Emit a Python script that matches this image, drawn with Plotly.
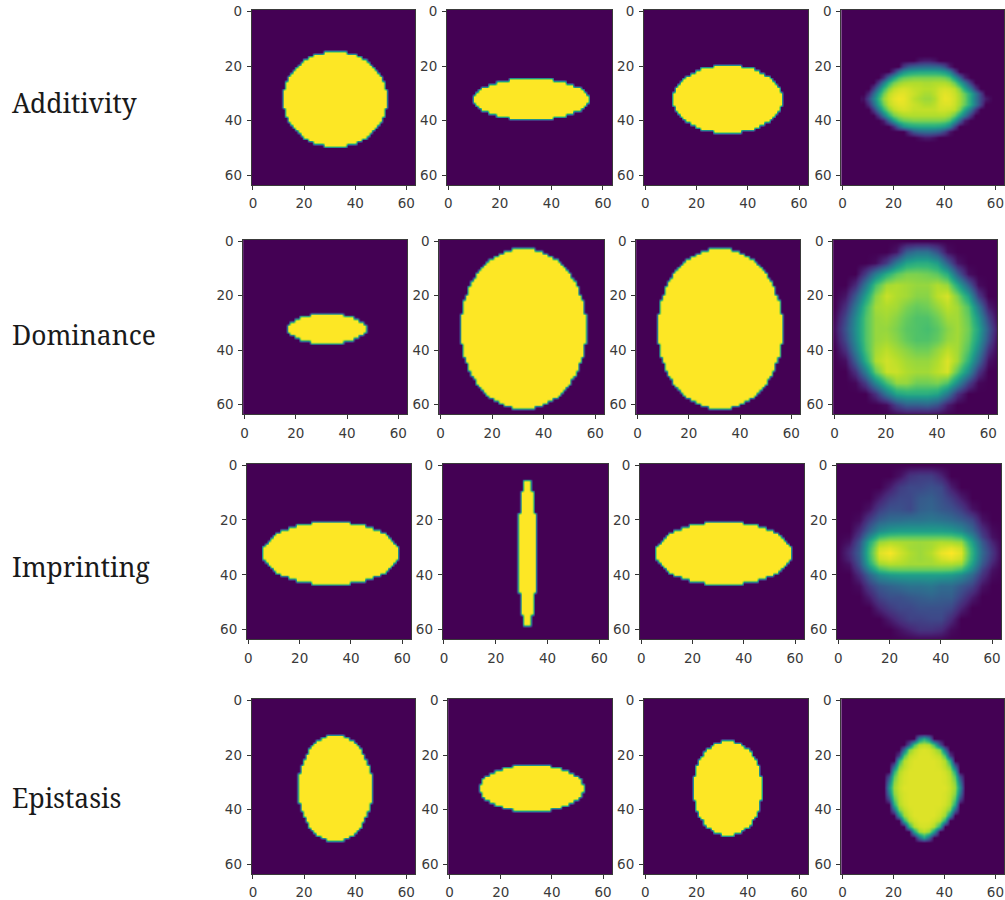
import plotly.graph_objects as go

row_labels = ["Additivity", "Dominance", "Imprinting", "Epistasis"]
tick_vals = [0, 20, 40, 60]

# Half-width (in cells) of each solid shape, listed per row going outward from the centre row 32
add_1 = [20,20,20,20,19,19,19,18,18,17,16,15,14,13,12,10,8,4]
add_2 = [22,22,21,20,19,16,13,8]
add_3 = [21,21,21,20,20,19,18,17,16,14,12,10,5]
dom_1 = [15,15,14,12,10,6]
dom_2 = [24,24,24,24,24,24,23,23,23,23,23,22,22,21,21,21,20,20,19,18,18,17,16,15,14,13,11,9,7,4]
dom_3 = [24,24,24,24,24,24,23,23,23,23,23,22,22,21,21,21,20,20,19,18,18,17,16,15,14,13,11,9,7,4]
imp_1 = [26,26,26,25,24,23,22,21,19,16,13,7]
imp_2 = [3,3,3,3,3,3,3,3,3,3,3,3,3,3,3,2,2,2,2,2,2,2,2,1,1,1,1]
imp_3 = [26,26,26,25,24,23,22,21,19,16,13,7]
epi_1 = [14,14,14,14,14,14,13,13,13,12,12,11,11,10,10,9,8,7,5,3]
epi_2 = [20,20,19,19,18,16,14,11,7]
epi_3 = [13,13,13,13,13,12,12,12,12,11,11,10,9,9,8,6,5,2]

# Readings (percent of the colour scale) of the blended panels, with the cell positions they were read at
add_4_x = [8,10,12,14,16,18,20,22,24,26,28,30,32,34,36,38,40,42,44,46,48,50,52,54,56,58]
add_4_y = [16,18,20,22,24,26,28,30,32,34,36,38,40,42,44,46,48]
add_4 = [
 [0]*26,
 [0,0,0,0,0,0,0,0,0,0,0,6,8,8,5,0,0,0,0,0,0,0,0,0,0,0],
 [0,0,0,0,0,0,0,0,18,28,32,34,35,35,34,32,24,8,0,0,0,0,0,0,0,0],
 [0,0,0,0,0,0,14,36,50,56,58,60,60,60,60,58,54,44,20,0,0,0,0,0,0,0],
 [0,0,0,0,12,36,56,70,76,78,80,80,80,80,80,80,78,72,54,34,10,0,0,0,0,0],
 [0,0,0,18,42,64,78,84,87,88,88,88,87,87,88,88,88,85,76,58,40,16,0,0,0,0],
 [0,0,18,42,66,82,90,93,94,93,91,90,89,89,90,93,94,93,90,80,60,40,16,0,0,0],
 [0,12,34,58,78,90,94,96,96,94,92,89,87,87,90,94,96,95,92,86,76,60,40,20,0,0],
 [4,22,44,66,84,92,96,98,97,94,90,87,85,85,88,94,97,96,93,87,78,60,40,22,8,2],
 [0,12,34,58,78,90,94,96,96,94,92,90,88,88,90,94,95,95,92,86,76,60,40,20,0,0],
 [0,0,18,42,66,82,90,93,94,93,91,91,91,91,91,93,93,92,90,80,60,40,16,0,0,0],
 [0,0,0,16,40,62,78,84,87,88,88,88,88,88,88,88,88,85,76,58,40,16,0,0,0,0],
 [0,0,0,0,8,32,54,70,76,78,80,80,80,80,80,80,78,72,54,32,8,0,0,0,0,0],
 [0,0,0,0,0,0,12,34,50,56,58,60,60,60,60,58,54,44,20,0,0,0,0,0,0,0],
 [0,0,0,0,0,0,0,0,0,14,28,34,36,36,34,30,20,6,0,0,0,0,0,0,0,0],
 [0,0,0,0,0,0,0,0,0,0,0,4,7,7,4,0,0,0,0,0,0,0,0,0,0,0],
 [0]*26,
]
dom_4_x = [0,4,8,12,16,20,24,28,32,36,40,44,48,52,56,60,64]
dom_4_y = [0,4,8,12,16,20,24,28,32,36,40,44,48,52,56,60,64]
dom_4 = [
 [0]*17,
 [0,0,0,0,0,0,6,30,38,38,25,4,0,0,0,0,0],
 [0,0,0,0,3,18,42,58,62,62,55,30,6,0,0,0,0],
 [0,0,0,18,42,62,74,80,80,78,74,62,30,4,0,0,0],
 [0,0,12,40,70,86,88,86,84,84,88,84,60,30,3,0,0],
 [0,6,28,56,82,92,88,86,82,82,90,94,80,56,18,0,0],
 [0,14,40,68,86,88,86,80,76,78,84,90,86,72,40,8,0],
 [2,22,48,72,84,86,82,76,72,72,78,86,86,76,52,20,0],
 [4,26,50,72,84,84,80,74,72,70,74,82,86,78,58,28,3],
 [2,22,48,72,84,86,82,76,72,72,76,84,86,76,54,24,0],
 [0,14,42,70,86,90,86,82,78,78,84,90,86,72,46,14,0],
 [0,4,30,62,88,93,90,86,84,84,88,95,86,64,34,5,0],
 [0,0,14,42,76,92,92,88,86,86,90,94,74,48,16,0,0],
 [0,0,2,18,46,70,84,84,78,78,80,72,48,20,2,0,0],
 [0,0,0,0,14,40,58,62,62,62,58,40,14,0,0,0,0],
 [0,0,0,0,0,3,20,30,30,32,25,8,0,0,0,0,0],
 [0]*17,
]
imp_4_x = [0,4,8,12,16,20,24,28,32,36,40,44,48,52,56,60,64]
imp_4_y = [0,4,8,12,16,20,24,26,28,30,32,34,36,38,40,44,48,52,56,60,64]
imp_4 = [
 [0]*17,
 [0,0,0,0,0,0,5,15,18,18,10,0,0,0,0,0,0],
 [0,0,0,0,0,8,18,22,22,25,22,8,0,0,0,0,0],
 [0,0,0,0,8,18,22,22,28,30,25,18,8,0,0,0,0],
 [0,0,0,5,18,25,25,22,30,32,28,25,18,5,0,0,0],
 [0,0,3,18,30,35,36,38,38,40,38,35,30,22,5,0,0],
 [0,0,12,32,48,54,56,56,56,56,56,54,48,34,15,3,0],
 [0,2,18,46,68,74,75,75,75,75,75,74,68,46,20,5,0],
 [0,5,25,60,84,88,87,86,85,86,88,87,84,56,28,10,0],
 [0,10,28,66,92,95,91,86,85,87,93,96,92,62,32,14,0],
 [0,12,30,68,95,99,93,88,85,89,97,100,95,64,34,16,0],
 [0,10,28,66,92,95,91,87,85,87,93,96,92,62,32,14,0],
 [0,5,25,60,85,89,88,86,86,86,88,88,85,56,28,10,0],
 [0,2,18,46,68,75,76,76,76,76,76,75,68,46,20,5,0],
 [0,0,12,32,48,54,56,56,56,56,56,54,48,34,15,3,0],
 [0,0,3,18,28,32,35,38,38,40,35,35,28,20,5,0,0],
 [0,0,0,8,20,25,25,28,30,32,30,30,20,8,0,0,0],
 [0,0,0,0,10,18,22,22,25,25,25,22,10,0,0,0,0],
 [0,0,0,0,0,8,15,20,20,22,22,12,0,0,0,0,0],
 [0,0,0,0,0,0,5,10,15,15,12,3,0,0,0,0,0],
 [0]*17,
]
epi_4_x = [16,18,20,22,24,26,28,30,32,34,36,38,40,42,44,46,48]
epi_4_y = [12,14,16,18,20,22,24,26,28,30,32,34,36,38,40,42,44,46,48,50,52]
epi_4 = [
 [0]*17,
 [0,0,0,0,0,0,0,45,62,45,0,0,0,0,0,0,0],
 [0,0,0,0,0,25,70,88,90,88,70,25,0,0,0,0,0],
 [0,0,0,0,35,80,90,94,95,94,90,80,35,0,0,0,0],
 [0,0,0,18,72,90,93,95,95,95,93,90,72,18,0,0,0],
 [0,0,0,62,88,93,95,95,95,95,95,93,88,62,0,0,0],
 [0,0,35,80,90,94,95,95,95,95,95,94,90,80,35,0,0],
 [0,0,62,88,93,95,95,95,95,95,95,95,93,88,62,0,0],
 [0,25,75,90,94,95,95,95,95,95,95,95,94,90,75,25,0],
 [0,40,82,91,94,95,95,95,95,95,95,95,94,91,82,40,0],
 [0,50,85,92,95,95,95,95,95,95,95,95,95,92,85,50,0],
 [0,40,82,91,94,95,95,95,95,95,95,95,94,91,82,40,0],
 [0,25,75,90,94,95,95,95,95,95,95,95,94,90,75,25,0],
 [0,0,62,88,93,95,95,95,95,95,95,95,93,88,62,0,0],
 [0,0,35,80,90,94,95,95,95,95,95,94,90,80,35,0,0],
 [0,0,0,50,85,92,95,95,95,95,95,92,85,50,0,0,0],
 [0,0,0,0,62,88,93,95,95,95,93,88,62,0,0,0,0],
 [0,0,0,0,0,62,88,93,94,93,88,62,0,0,0,0,0],
 [0,0,0,0,0,0,55,85,90,85,55,0,0,0,0,0,0],
 [0,0,0,0,0,0,0,35,58,35,0,0,0,0,0,0,0],
 [0]*17,
]

solid_rows = [[add_1, add_2, add_3], [dom_1, dom_2, dom_3], [imp_1, imp_2, imp_3], [epi_1, epi_2, epi_3]]
blended_rows = [(add_4_x, add_4_y, add_4), (dom_4_x, dom_4_y, dom_4), (imp_4_x, imp_4_y, imp_4), (epi_4_x, epi_4_y, epi_4)]

# Pixel boxes of the panels: left/right per panel, top/bottom per row
row_y = [(10, 185), (239.7, 414.3), (463.7, 639.3), (699, 874)]
row_x = [
    [(251.7, 415.3), (447, 612), (644, 808), (841.3, 1004.3)],
    [(243.3, 407.3), (439.3, 604.3), (636.3, 800.3), (833.3, 997.3)],
    [(247, 411.3), (442.7, 608.3), (640, 804), (837, 1001)],
    [(251.7, 415.3), (448.3, 612), (644, 808), (841.3, 1004.3)],
]
label_y = [103, 335, 567, 798]
W, H = 1005, 900


def mask_from_widths(widths):
    grid = [[0.0] * 64 for _ in range(64)]
    for dy, h in enumerate(widths):
        for row in {32 - dy, 32 + dy}:
            for col in range(32 - h, 32 + h + 1):
                grid[row][col] = 1.0
    return grid


fig = go.Figure()
axis_style = dict(
    automargin=False, showgrid=False, zeroline=False, showline=True, linecolor="#3a3a3a", linewidth=1, mirror=True,
    ticks="outside", ticklen=4, tickwidth=1, tickcolor="#333333", tickvals=tick_vals, ticklabelstandoff=2,
    tickfont=dict(family="DejaVu Sans", size=13.5, color="#3a3a3a"),
)
n = 0
for r in range(4):
    for c in range(4):
        n += 1
        (x0, x1), (y0, y1) = row_x[r][c], row_y[r]
        sfx = "" if n == 1 else str(n)
        fig.update_layout({
            "xaxis" + sfx: dict(domain=[x0 / W, x1 / W], range=[-0.5, 63.5], anchor="y" + sfx, **axis_style),
            "yaxis" + sfx: dict(domain=[1 - y1 / H, 1 - y0 / H], range=[63.5, -0.5], anchor="x" + sfx, **axis_style),
        })
        if c < 3:
            tr = dict(z=mask_from_widths(solid_rows[r][c]))
        else:
            bx, by, bz = blended_rows[r]
            tr = dict(z=[[v / 100 for v in row] for row in bz], x=bx, y=by)
        fig.add_trace(go.Heatmap(colorscale="Viridis", zmin=0, zmax=1, showscale=False, zsmooth="best",
                                 xaxis="x" + sfx, yaxis="y" + sfx, hoverinfo="skip", **tr))

for name, y in zip(row_labels, label_y):
    fig.add_annotation(text=name, xref="paper", yref="paper", x=10 / W, y=1 - y / H, xanchor="left",
                       yanchor="middle", showarrow=False,
                       font=dict(family="Noto Serif, Liberation Serif, serif", size=26.4, color="#1a1a1a"))

fig.update_layout(width=W, height=H, margin=dict(l=0, r=0, t=0, b=0), paper_bgcolor="white",
                  plot_bgcolor="#440154", showlegend=False)
fig.write_html("out.html", config={"displayModeBar": False}, post_script="document.body.style.margin='0';")
